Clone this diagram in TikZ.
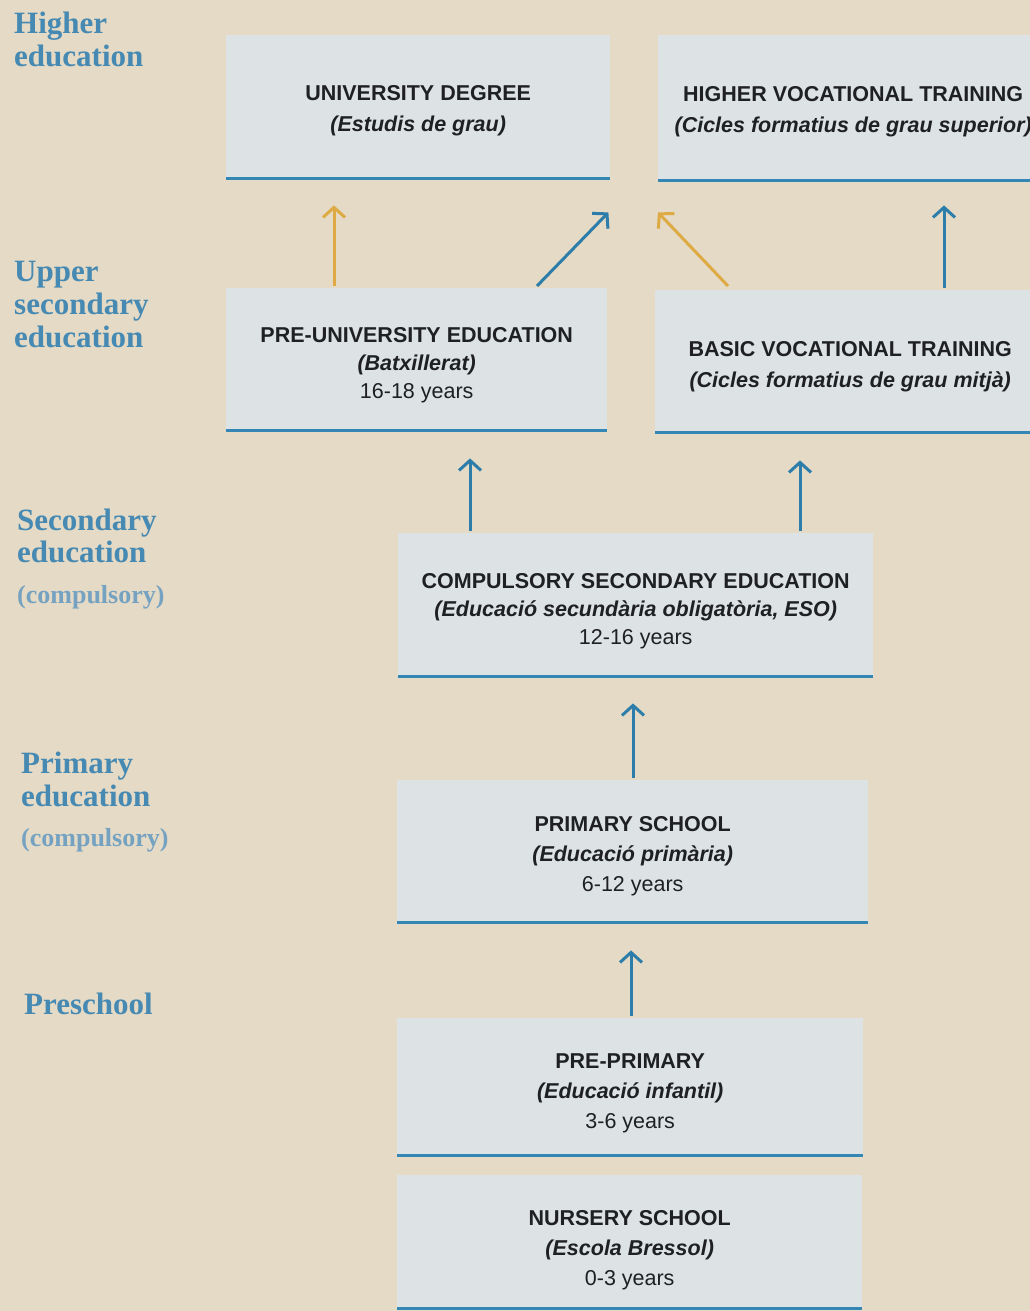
\documentclass[tikz,border=0pt]{standalone}
\usepackage{fontspec}
\setmainfont{Liberation Sans}
\newfontfamily\labfont{Liberation Serif}
\usetikzlibrary{arrows.meta,calc}
\definecolor{bg}{RGB}{228,218,197}
\definecolor{boxfill}{RGB}{221,226,229}
\definecolor{lineblue}{RGB}{52,134,180}
\definecolor{arrblue}{RGB}{45,125,170}
\definecolor{arrorange}{RGB}{222,170,68}
\definecolor{labblue}{RGB}{70,137,178}
\definecolor{lablight}{RGB}{118,162,194}
\definecolor{txt}{RGB}{30,32,35}
\newcommand\lift[1]{\rule{0pt}{#1}}
\begin{document}
\begin{tikzpicture}[x=1pt,y=-1pt,
  stage/.style={fill=boxfill, draw=none, inner sep=0pt, anchor=north west,
    align=center, text=txt, font=\fontsize{21.5}{31}\selectfont},
  three/.style={font=\fontsize{21.5}{28}\selectfont},
  boxrule/.style={draw=lineblue, line width=3pt},
  uparr/.style={line width=3pt, -{Straight Barb[length=10pt,width=22pt]}},
  bluearr/.style={uparr, draw=arrblue},
  orangearr/.style={uparr, draw=arrorange},
  lab/.style={anchor=base west, inner sep=0pt, text=labblue,
    font=\labfont\bfseries\fontsize{31}{33}\selectfont},
  labsmall/.style={anchor=base west, inner sep=0pt, text=lablight,
    font=\labfont\bfseries\fontsize{26}{30}\selectfont},
]
\useasboundingbox (0,0) rectangle (1030,1311);
\clip (0,0) rectangle (1030,1311);
\fill[bg] (0,0) rectangle (1030,1311);

% boxes
\node[stage, minimum width=384pt, minimum height=143pt] (ud) at (226,35)
  {\lift{24pt}\textbf{UNIVERSITY DEGREE}\\\textbf{\textit{(Estudis de grau)}}};
\node[stage, minimum width=390pt, minimum height=145pt] (hv) at (658,35)
  {\lift{24pt}\textbf{HIGHER VOCATIONAL TRAINING}\\\textbf{\textit{(Cicles formatius de grau superior)}}};
\node[stage, three, minimum width=381pt, minimum height=142pt] (pu) at (226,288)
  {\lift{27pt}\textbf{PRE-UNIVERSITY EDUCATION}\\\textbf{\textit{(Batxillerat)}}\\16-18 years};
\node[stage, minimum width=390pt, minimum height=142pt] (bv) at (655,290)
  {\lift{27pt}\textbf{BASIC VOCATIONAL TRAINING}\\\textbf{\textit{(Cicles formatius de grau mitjà)}}};
\node[stage, three, minimum width=475pt, minimum height=143pt] (es) at (398,533)
  {\lift{28pt}\textbf{COMPULSORY SECONDARY EDUCATION}\\\textbf{\textit{(Educació secundària obligatòria, ESO)}}\\12-16 years};
\node[stage, font=\fontsize{21.5}{30}\selectfont, minimum width=471pt, minimum height=142pt] (pr) at (397,780)
  {\lift{26pt}\textbf{PRIMARY SCHOOL}\\\textbf{\textit{(Educació primària)}}\\6-12 years};
\node[stage, font=\fontsize{21.5}{30}\selectfont, minimum width=466pt, minimum height=137pt] (pp) at (397,1018)
  {\lift{29pt}\textbf{PRE-PRIMARY}\\\textbf{\textit{(Educació infantil)}}\\3-6 years};
\node[stage, font=\fontsize{21.5}{30}\selectfont, minimum width=465pt, minimum height=133pt] (ns) at (397,1175)
  {\lift{33pt}\textbf{NURSERY SCHOOL}\\\textbf{\textit{(Escola Bressol)}}\\0-3 years};

% bottom rules
\foreach \b in {ud,hv,pu,bv,es,pr,pp,ns}
  \draw[boxrule] (\b.south west) -- (\b.south east);

% arrows
\draw[orangearr] ($(pu.north west)+(108,-2)$) -- ($(ud.south west)+(108,27)$);
\draw[bluearr] ($(pu.north west)+(311,-2)$) -- ($(ud.south east)+(-2,34)$);
\draw[orangearr] ($(bv.north west)+(73,-4)$) -- ($(hv.south west)+(0,32)$);
\draw[bluearr] ($(bv.north west)+(289,-2)$) -- ($(hv.south west)+(286,25)$);
\draw[bluearr] ($(es.north west)+(72,-2)$) -- ($(pu.south west)+(244,28)$);
\draw[bluearr] ($(es.north west)+(402,-2)$) -- ($(bv.south west)+(145,28)$);
\draw[bluearr] ($(pr.north west)+(236,-2)$) -- ($(es.south west)+(235,27)$);
\draw[bluearr] ($(pp.north west)+(234,-2)$) -- ($(pr.south west)+(234,28)$);

% left labels
\node[lab] (h1) at (14,34) {Higher};
\node[lab] (h2) at (14,67) {education};
\node[lab] (u1) at (14,281) {Upper};
\node[lab] (u2) at (14,314) {secondary};
\node[lab] (u3) at (14,347) {education};
\node[lab] (s1) at (17,530) {Secondary};
\node[lab] (s2) at (17,562) {education};
\node[labsmall] (s3) at (17,603) {(compulsory)};
\node[lab] (p1) at (21,773) {Primary};
\node[lab] (p2) at (21,806) {education};
\node[labsmall] (p3) at (21,846) {(compulsory)};
\node[lab] (k1) at (24,1014) {Preschool};
\end{tikzpicture}
\end{document}
